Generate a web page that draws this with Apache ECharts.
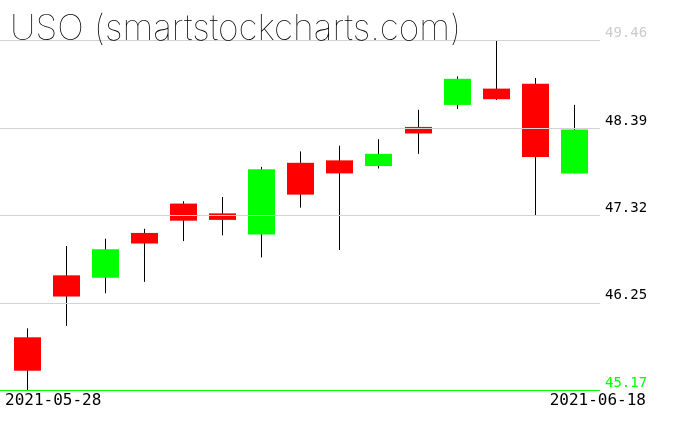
<!DOCTYPE html>
<html>
<head>
<meta charset="utf-8">
<script src="https://cdn.jsdelivr.net/npm/echarts@6/dist/echarts.min.js"></script>
<style>
html,body{margin:0;padding:0;background:#fff;}
#chart{width:676px;height:431px;}
</style>
</head>
<body>
<div id="chart"></div>
<script>
// ---- data ----
var dates  = ['2021-05-28','2021-06-01','2021-06-02','2021-06-03','2021-06-04','2021-06-07','2021-06-08','2021-06-09','2021-06-10','2021-06-11','2021-06-14','2021-06-15','2021-06-16','2021-06-17','2021-06-18'];
var opens  = [45.82, 46.58, 46.55, 47.10, 47.46, 47.34, 47.08, 47.96, 47.99, 47.92, 48.40, 48.67, 48.87, 48.93, 47.83];
var closes = [45.41, 46.32, 46.90, 46.97, 47.25, 47.26, 47.88, 47.57, 47.83, 48.07, 48.32, 48.99, 48.74, 48.03, 48.37];
var lows   = [45.17, 45.96, 46.36, 46.50, 47.00, 47.07, 46.80, 47.41, 46.89, 47.89, 48.07, 48.62, 48.73, 47.32, 47.83];
var highs  = [45.93, 46.94, 47.03, 47.15, 47.49, 47.54, 47.91, 48.10, 48.17, 48.25, 48.61, 49.02, 49.46, 49.00, 48.67];
var tickLabels = ['45.17','46.25','47.32','48.39','49.46'];
var title = 'USO (smartstockcharts.com)';

var yMin = 45.17, yMax = 49.46;

var seriesData = dates.map(function(d, i){ return [i, opens[i], closes[i], lows[i], highs[i]]; });

var chart = echarts.init(document.getElementById('chart'), null, {renderer:'canvas'});

var option = {
  animation: false,
  backgroundColor: '#ffffff',
  title: {
    text: title,
    left: 5, top: 6,
    textStyle: {fontFamily: 'Inter', fontSize: 35.5, fontWeight: 100, color: '#000'}
  },
  grid: [
    {left: 0, right: 76, top: 40.5, bottom: 40.7},
    {left: 7, right: 82.5, top: 40.5, bottom: 40.7}
  ],
  xAxis: [
    {gridIndex: 0, type: 'value', min: 0, max: 1, show: false},
    {gridIndex: 1, type: 'category', data: dates, boundaryGap: true, show: false}
  ],
  yAxis: [
    {
      gridIndex: 0, type: 'value', min: 0, max: tickLabels.length - 1, interval: 1,
      position: 'right', z: 5,
      axisLine: {show: false}, axisTick: {show: false},
      splitLine: {show: true, showMinLine: true, showMaxLine: true,
        lineStyle: {color: ['#00ff00', '#d3d3d3', '#d3d3d3', '#d3d3d3', '#d3d3d3'], width: 1}},
      axisLabel: {
        show: true, inside: false, margin: 5,
        fontFamily: 'DejaVu Sans Mono', fontSize: 14,
        verticalAlign: 'bottom', lineHeight: 14,
        formatter: function(v){ return tickLabels[Math.round(v)] || ''; },
        color: function(v){
          var i = Math.round(v);
          if (i === 0) return '#00ff00';
          if (i === tickLabels.length - 1) return '#cccccc';
          return '#000000';
        }
      }
    },
    {gridIndex: 1, type: 'value', min: yMin, max: yMax, show: false, splitLine: {show: false}}
  ],
  graphic: [
    {type: 'text', left: 5, top: 393, z: 10,
     style: {text: dates[0], fontFamily: 'DejaVu Sans Mono', fontSize: 16, fill: '#000'}},
    {type: 'text', right: 30, top: 393, z: 10,
     style: {text: dates[dates.length - 1], fontFamily: 'DejaVu Sans Mono', fontSize: 16, fill: '#000'}}
  ],
  series: [{
    type: 'custom',
    xAxisIndex: 1, yAxisIndex: 1,
    z: 2,
    data: seriesData,
    renderItem: function(params, api){
      var idx = api.value(0);
      var o = api.value(1), c = api.value(2), l = api.value(3), h = api.value(4);
      var pO = api.coord([idx, o]);
      var pC = api.coord([idx, c]);
      var pL = api.coord([idx, l]);
      var pH = api.coord([idx, h]);
      var band = api.size([1, 0])[0];
      var bw = Math.round(band * 0.69);
      var cx = Math.round(pO[0]);
      var top = Math.min(pO[1], pC[1]);
      var bot = Math.max(pO[1], pC[1]);
      var color = c > o ? '#00ff00' : '#ff0000';
      return {
        type: 'group',
        children: [
          {type: 'line', shape: {x1: cx + 0.5, y1: pH[1], x2: cx + 0.5, y2: pL[1]},
           style: {stroke: '#000', lineWidth: 1}},
          {type: 'rect', shape: {x: cx - Math.floor(bw / 2), y: top, width: bw, height: Math.max(bot - top, 1)},
           style: {fill: color, stroke: null}}
        ]
      };
    }
  }]
};
chart.setOption(option);
</script>
</body>
</html>
